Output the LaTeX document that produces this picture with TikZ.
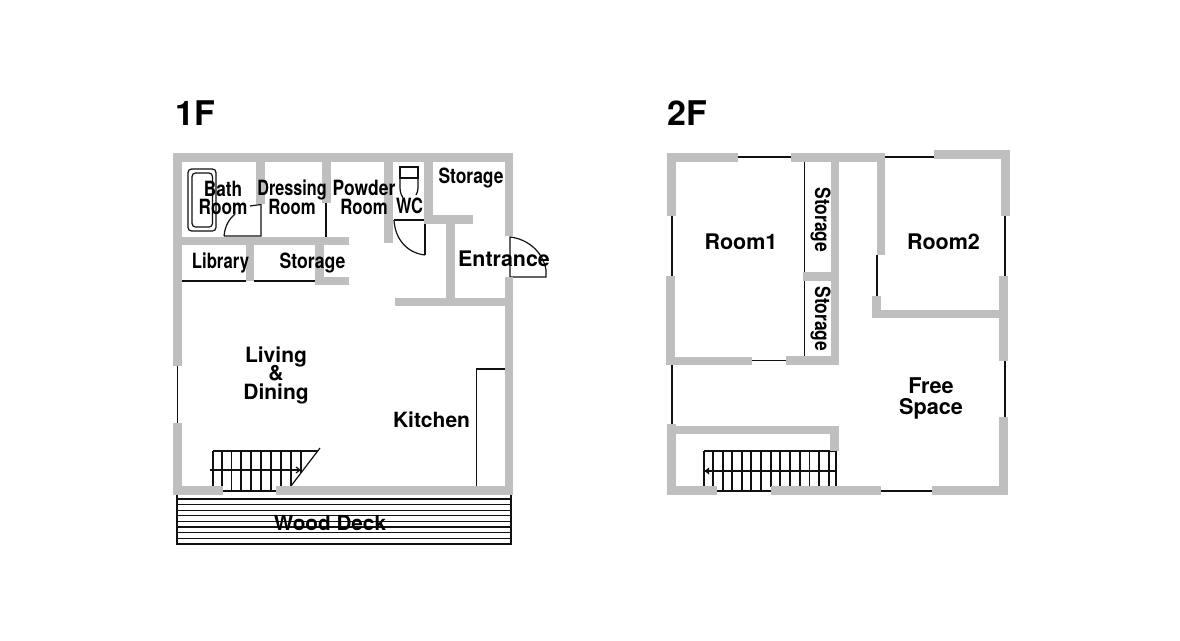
\documentclass[tikz,border=0pt]{standalone}
\usepackage{fontspec}
\setmainfont{TeX Gyre Heros}
\definecolor{wallc}{HTML}{BFBFBF}
\definecolor{inkc}{HTML}{111111}
\newcommand{\wl}[4]{\fill[wallc] (#1,#2) rectangle (#3,#4);}
\newcommand{\nw}[2]{\scalebox{#1}[1]{#2}}
\tikzset{
  thin line/.style={draw=inkc,line width=1.2pt},
  lab/.style={font=\bfseries\fontsize{#1}{#1}\selectfont,text=black,inner sep=0pt,align=center,anchor=base},
  lab/.default=21
}
\begin{document}
\begin{tikzpicture}[x=1pt,y=-1pt]
\useasboundingbox (0,0) rectangle (1180,640);
\fill[white] (0,0) rectangle (1180,640);
% ---------- 1F thin lines
\draw[thin line] (177.5,366) -- (177.5,423);
\draw[thin line] (326,203) -- (326,237);
\draw[thin line] (182,281) -- (246,281) (254,281) -- (315,281);
% kitchen counter
\draw[thin line] (476.5,487) -- (476.5,369) -- (505,369);
% bath tub
\draw[thin line,rounded corners=3.5pt] (188,169) rectangle (216,231);
\draw[thin line,rounded corners=3.5pt] (192,173) rectangle (212.5,227);
% bath door
\draw[thin line] (224,236) -- (261,236) -- (261,204.5) -- (250,206);
\draw[thin line] (224,236) .. controls (225,226) and (229,219) .. (235,214);
% toilet
\draw[thin line] (400,178) -- (400,167) -- (418,167) -- (418,178) -- cycle;
\draw[thin line] (400,178) -- (400,188) .. controls (400,193) and (402,196) .. (403,198);
\draw[thin line] (418,178) -- (418,188) .. controls (418,191) and (417,193) .. (416,195);
% WC door
\draw[thin line] (394,220) -- (425,220) -- (425,255);
\draw[thin line] (394,220) .. controls (395,239) and (407,253) .. (425,255);
% entrance door
\draw[thin line] (510,277) -- (510,237) .. controls (528,239) and (543,252) .. (546,270) -- (546,277) -- cycle;
% wood deck
\foreach \yy in {499,504.6,510.2,515.8,521.4,527,532.6,538.2,544}
  \draw[thin line] (177,\yy) -- (511,\yy);
\draw[thin line] (177,495) -- (177,544.5);
\draw[thin line] (511,495) -- (511,544.5);
% stairs 1F
\draw[thin line] (213,451) -- (317.5,451);
\foreach \xx in {213,281,291} \draw[thin line] (\xx,451) -- (\xx,486);
\foreach \xx in {222,231.5,241,251,261,271} \draw[thin line] (\xx,451) -- (\xx,491);
\draw[thin line] (301,451) -- (301,473);
\draw[thin line] (222,491) -- (276,491);
\draw[thin line] (291,486) -- (320,448);
\draw[thin line] (210,470) -- (300,470);
\draw[thin line] (296,467) -- (300,470) -- (296,473);
% ---------- 1F walls
\wl{173}{153}{513}{162}
\wl{173}{153}{182}{366}
\wl{173}{423}{182}{495}
\wl{173}{486}{223}{495}
\wl{276}{486}{513}{495}
\wl{505}{153}{513}{236}
\wl{505}{277}{513}{495}
\wl{256}{153}{265}{204}
\wl{322}{153}{331}{203}
\wl{182}{237}{349}{245}
\wl{246}{245}{254}{281}
\wl{315}{245}{324}{285}
\wl{315}{277}{349}{285}
\wl{384}{153}{393}{243}
\wl{424}{153}{433}{224}
\wl{424}{215}{473}{224}
\wl{446}{224}{455}{298}
\wl{395}{298}{505}{306}
% ---------- 2F thin lines
\draw[thin line] (738,157) -- (791,157) (885,157) -- (934,157);
\draw[thin line] (672,365) -- (672,425);
\draw[thin line] (672,216) -- (672,276);
\draw[thin line] (752,360.5) -- (786,360.5);
\draw[thin line] (804.5,162) -- (804.5,272) (804.5,281) -- (804.5,357);
\draw[thin line] (877,255) -- (877,296);
\draw[thin line] (1005,216) -- (1005,277);
\draw[thin line] (1005,361) -- (1005,417);
\draw[thin line] (881,491) -- (932,491);
% stairs 2F
\draw[thin line] (704,451) -- (836,451);
\foreach \xx in {704,780,790,800,809.5,819,829,836} \draw[thin line] (\xx,451) -- (\xx,486);
\foreach \xx in {713,723,732,742,751,761} \draw[thin line] (\xx,451) -- (\xx,491);
\draw[thin line] (771,451) -- (771,487);
\draw[thin line] (717,491) -- (771,491);
\draw[thin line] (705,471) -- (836,471);
\fill[inkc] (704.5,471) -- (709,467.5) -- (709,474.5) -- cycle;
% ---------- 2F walls
\wl{667}{153}{738}{162}
\wl{667}{153}{676}{216}
\wl{666}{276}{675}{365}
\wl{666}{357}{752}{365}
\wl{791}{153}{885}{162}
\wl{831}{153}{839}{365}
\wl{803}{272}{831}{281}
\wl{786}{356}{839}{365}
\wl{877}{153}{885}{255}
\wl{872}{296}{881}{318}
\wl{872}{310}{1003}{318}
\wl{934}{150}{1010}{159}
\wl{1001}{150}{1010}{216}
\wl{999}{276}{1008}{361}
\wl{999}{417}{1008}{495}
\wl{932}{486}{1008}{495}
\wl{771}{486}{881}{495}
\wl{667}{424}{676}{495}
\wl{667}{426}{839}{434}
\wl{830}{426}{839}{451}
\wl{667}{486}{717}{495}
% ---------- labels
\node[lab=34] (t1f) at (195,125.5) {1F};
\node[lab=34] (t2f) at (687,125.5) {2F};
\node[lab] (bath) at (223,214.5) {\nw{.82}{Bath}\\[-2.5pt]\nw{.82}{Room}};
\node[lab] (dress) at (292,214) {\nw{.77}{Dressing}\\[-2.5pt]\nw{.795}{Room}};
\node[lab] (powder) at (364,214) {\nw{.83}{Powder}\\[-2.5pt]\nw{.795}{Room}};
\node[lab] (wc) at (409.5,213) {\nw{.78}{WC}};
\node[lab] (stor1) at (471,183) {\nw{.83}{Storage}};
\node[lab] (lib) at (220.5,268.5) {\nw{.795}{Library}};
\node[lab] (stor2) at (312.5,268.5) {\nw{.84}{Storage}};
\node[lab=21.4] (ent) at (504,266.5) {Entrance};
\node[lab] (living) at (276,399) {Living\\[-2.5pt]\&\\[-2.5pt]Dining};
\node[lab] (kit) at (431.5,427) {Kitchen};
\node[lab=20.7] (deck) at (330,530) {Wood Deck};
\node[lab=21.5] (r1) at (741,249) {Room1};
\node[lab=21.5] (r2) at (943.5,249) {Room2};
\node[lab,rotate=-90,anchor=base] (s1) at (815,220) {\nw{.83}{Storage}};
\node[lab,rotate=-90,anchor=base] (s2) at (815,319) {\nw{.83}{Storage}};
\node[lab=21.7] (free) at (931,414.5) {Free\\[-0.7pt]Space};
\end{tikzpicture}
\end{document}
